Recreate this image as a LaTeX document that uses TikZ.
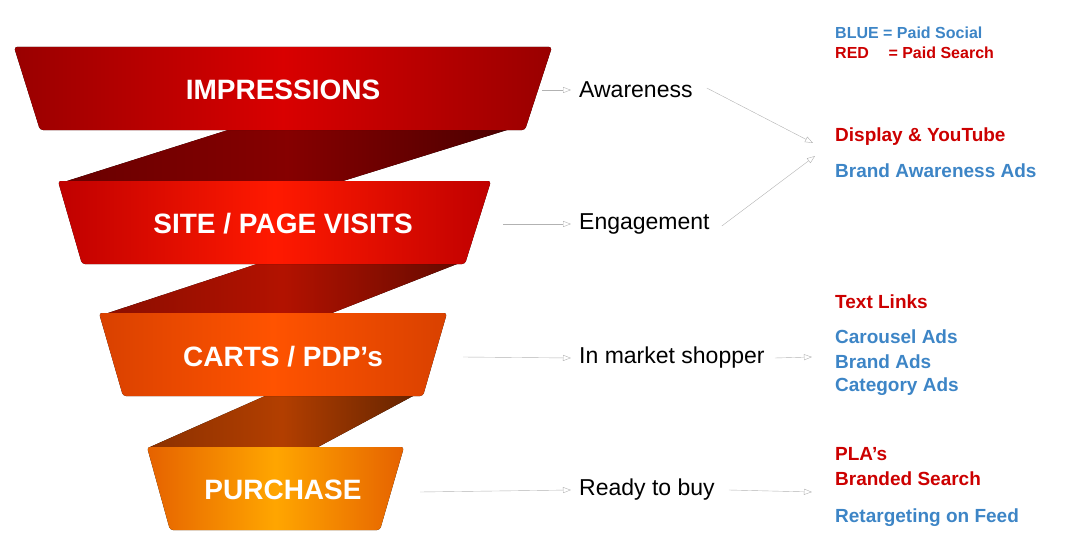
\documentclass[tikz,border=0pt]{standalone}
\usepackage{fontspec}
\setmainfont{Liberation Sans}
\usetikzlibrary{arrows.meta, positioning}
\definecolor{paidred}{HTML}{CC0000}
\definecolor{paidblue}{HTML}{3D85C6}
\tikzset{
    band/.style={
        rounded corners=3pt,
        draw=none
    },
    ribbon/.style={
        draw=none,
        left color=#1!55!black,
        right color=#1!40!black,
        middle color=#1!70!black
    },
    bandtext/.style={
        text=white,
        font=\bfseries\fontsize{28}{30}\selectfont
    },
    stage/.style={
        anchor=west,
        inner sep=0pt,
        font=\fontsize{23}{25}\selectfont
    },
    channel/.style={
        anchor=west,
        inner sep=0pt,
        font=\bfseries\fontsize{19}{21}\selectfont
    },
    legend/.style={
        anchor=west,
        inner sep=0pt,
        font=\bfseries\fontsize{16}{18}\selectfont
    },
    arrow/.style={
        gray!60,
        thin,
        -{Triangle[open,length=8pt,width=6pt]}
    }
}

\begin{document}
\begin{tikzpicture}[x=1pt,y=-1pt]
\useasboundingbox (0,0) rectangle (1072,535);

% Ribbons between bands
\fill[ribbon=red!75!black] (228,130) -- (507,130) -- (343,181) -- (67,181) -- cycle;
\fill[ribbon=red!80!orange] (257,264) -- (457,264) -- (332,313) -- (108,313) -- cycle;
\fill[ribbon=orange!70!red] (265,396) -- (413,396) -- (318,447) -- (150,447) -- cycle;

% Bands
\fill[band, left color=red!60!black, right color=red!60!black, middle color=red!85!black]
    (14,47) -- (552,47) -- (525,130) -- (40,130) -- cycle;
\fill[band, left color=red!75!black, right color=red!75!black, middle color=red!80!orange]
    (58,181) -- (491,181) -- (465,264) -- (82,264) -- cycle;
\fill[band, left color=orange!60!red!85!black, right color=orange!60!red!85!black, middle color=orange!65!red]
    (99,313) -- (447,313) -- (423,396) -- (123,396) -- cycle;
\fill[band, left color=orange!85!red!90!black, right color=orange!85!red!90!black, middle color=orange!70!yellow]
    (147,447) -- (404,447) -- (380,530) -- (170,530) -- cycle;

% Band labels
\node (impressions) [bandtext] at (283,90) {IMPRESSIONS};
\node (visits) [bandtext] at (283,224) {SITE / PAGE VISITS};
\node (carts) [bandtext] at (283,357) {CARTS / PDP’s};
\node (purchase) [bandtext] at (283,490) {PURCHASE};

\coordinate (impressionsend) at (542,90);
\coordinate (visitsend) at (503,224);
\coordinate (cartsend) at (463,357);
\coordinate (purchaseend) at (420,492);

% Stages
\node (awareness) [stage] at (579,90) {Awareness};
\node (engagement) [stage] at (579,224) {Engagement};
\node (shopper) [stage] at (579,358) {In market shopper};
\node (ready) [stage] at (579,490) {Ready to buy};

% Legend
\node (legblue) [legend, text=paidblue] at (835,33) {BLUE = Paid Social};
\node (legred) [legend, text=paidred] at (835,53) {RED\phantom{E}\ \ = Paid Search};

% Channels
\node (display) [channel, text=paidred] at (835,137) {Display \& YouTube};
\node (brandaware) [channel, text=paidblue] at (835,171) {Brand Awareness Ads};
\node (textlinks) [channel, text=paidred] at (835,302) {Text Links};
\node (carousel) [channel, text=paidblue] at (835,337) {Carousel Ads};
\node (brandads) [channel, text=paidblue] at (835,362) {Brand Ads};
\node (category) [channel, text=paidblue] at (835,387) {Category Ads};
\node (pla) [channel, text=paidred] at (835,454) {PLA’s};
\node (branded) [channel, text=paidred] at (835,479) {Branded Search};
\node (retarget) [channel, text=paidblue] at (835,518) {Retargeting on Feed};

\coordinate (awarein) at (813,143);
\coordinate (engagein) at (815,156);
\coordinate (shopperin) at (812,357);
\coordinate (readyin) at (812,492);

% Arrows
\draw[arrow] (impressionsend) -- ([xshift=-8pt]awareness.west);
\draw[arrow] (visitsend) -- ([xshift=-8pt]engagement.west);
\draw[arrow] (cartsend) -- ([xshift=-8pt]shopper.west);
\draw[arrow] (purchaseend) -- ([xshift=-8pt]ready.west);
\draw[arrow] ([xshift=14pt,yshift=2pt]awareness.east) -- (awarein);
\draw[arrow] ([xshift=12pt,yshift=-2pt]engagement.east) -- (engagein);
\draw[arrow] ([xshift=10pt]shopper.east) -- (shopperin);
\draw[arrow] ([xshift=14pt]ready.east) -- (readyin);

\end{tikzpicture}
\end{document}
